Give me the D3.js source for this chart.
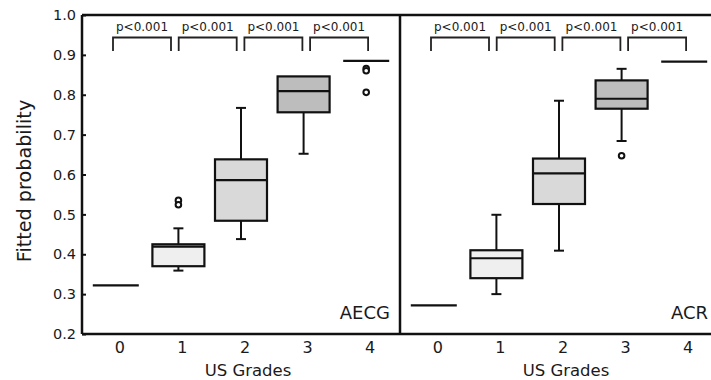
<!DOCTYPE html>
<html>
<head>
<meta charset="utf-8">
<script src="https://cdn.jsdelivr.net/npm/d3@7"></script>
<style>
  body { margin: 0; background: #fff; }
  text { font-family: "DejaVu Sans", Verdana, sans-serif; fill: #1a1a1a; }
</style>
</head>
<body>
<div id="chart"></div>
<script>
// data
var grades = [0, 1, 2, 3, 4];
var yTicks = [0.2, 0.3, 0.4, 0.5, 0.6, 0.7, 0.8, 0.9, 1.0];
var pLabels = ['p<0.001', 'p<0.001', 'p<0.001', 'p<0.001'];
var boxFills = ['#f0f0f0', '#efefef', '#d9d9d9', '#bdbdbd', '#bdbdbd'];

var aecgMin = [0.322, 0.359, 0.438, 0.652, 0.885];
var aecgQ1 = [0.322, 0.370, 0.484, 0.756, 0.885];
var aecgMed = [0.322, 0.419, 0.586, 0.809, 0.885];
var aecgQ3 = [0.322, 0.425, 0.638, 0.846, 0.885];
var aecgMax = [0.322, 0.465, 0.767, 0.846, 0.885];
var aecgOut = [[], [0.535, 0.524], [], [], [0.866, 0.860, 0.806]];

var acrMin = [0.272, 0.300, 0.409, 0.684, 0.883];
var acrQ1 = [0.272, 0.340, 0.526, 0.765, 0.883];
var acrMed = [0.272, 0.390, 0.603, 0.790, 0.883];
var acrQ3 = [0.272, 0.410, 0.640, 0.836, 0.883];
var acrMax = [0.272, 0.499, 0.785, 0.865, 0.883];
var acrOut = [[], [], [], [0.647], []];

var width = 711, height = 380;
var plotLeft = 82, plotTop = 15, plotBottom = 334, panelW = 318;

var svg = d3.select('#chart').append('svg')
  .attr('width', width)
  .attr('height', height);

var y = d3.scaleLinear().domain([0.2, 1.0]).range([plotBottom, plotTop]);

function stats(mins, q1s, meds, q3s, maxs, outs) {
  return grades.map(function(g, i) {
    return {grade: g, min: mins[i], q1: q1s[i], med: meds[i], q3: q3s[i], max: maxs[i], out: outs[i]};
  });
}

function drawPanel(x0, data, label) {
  var x = d3.scalePoint().domain(grades).range([x0, x0 + panelW]).padding(0.54);
  var bx = d3.scaleLinear().domain([0, 4]).range([x0 + 31, x0 + 31 + 4 * 65.7]);
  var g = svg.append('g');
  var hw = 26;

  var node = g.selectAll('.box')
    .data(data)
    .enter()
    .append('g').attr('class', 'box')
    .attr('transform', function(d) { return 'translate(' + x(d.grade) + ',0)'; });

  var real = node.filter(function(d) { return d.q3 > d.q1; });

  // whiskers
  real.append('line')
    .attr('y1', function(d) { return y(d.q3); })
    .attr('y2', function(d) { return y(d.max); })
    .attr('stroke', '#111').attr('stroke-width', 2);
  real.append('line')
    .attr('y1', function(d) { return y(d.q1); })
    .attr('y2', function(d) { return y(d.min); })
    .attr('stroke', '#111').attr('stroke-width', 2);
  real.filter(function(d) { return d.max > d.q3; }).append('line')
    .attr('x1', -5).attr('x2', 5)
    .attr('y1', function(d) { return y(d.max); })
    .attr('y2', function(d) { return y(d.max); })
    .attr('stroke', '#111').attr('stroke-width', 2);
  real.filter(function(d) { return d.min < d.q1; }).append('line')
    .attr('x1', -5).attr('x2', 5)
    .attr('y1', function(d) { return y(d.min); })
    .attr('y2', function(d) { return y(d.min); })
    .attr('stroke', '#111').attr('stroke-width', 2);

  real.append('rect')
    .attr('x', -hw)
    .attr('width', hw * 2)
    .attr('y', function(d) { return y(d.q3); })
    .attr('height', function(d) { return y(d.q1) - y(d.q3); })
    .attr('fill', function(d) { return boxFills[d.grade]; })
    .attr('stroke', '#111').attr('stroke-width', 2.2);

  real.append('line')
    .attr('x1', -hw).attr('x2', hw)
    .attr('y1', function(d) { return y(d.med); })
    .attr('y2', function(d) { return y(d.med); })
    .attr('stroke', '#111').attr('stroke-width', 2.2);

  // single-value groups
  node.filter(function(d) { return d.q3 <= d.q1; }).append('line')
    .attr('x1', -23).attr('x2', 23)
    .attr('y1', function(d) { return y(d.med); })
    .attr('y2', function(d) { return y(d.med); })
    .attr('stroke', '#111').attr('stroke-width', 2.2);

  node.selectAll('circle')
    .data(function(d) { return d.out; })
    .enter()
    .append('circle')
    .attr('r', 2.8)
    .attr('cy', function(v) { return y(v); })
    .attr('fill', '#fff')
    .attr('stroke', '#111').attr('stroke-width', 2);

  // significance brackets
  var br = g.selectAll('.bracket')
    .data(pLabels)
    .enter()
    .append('g').attr('class', 'bracket')
    .attr('transform', function(d, i) { return 'translate(' + bx(i) + ',0)'; });
  br.append('path')
    .attr('d', 'M0,51V37.5H58V51')
    .attr('fill', 'none')
    .attr('stroke', '#222').attr('stroke-width', 1.8);
  br.append('text')
    .attr('x', 29).attr('y', 31)
    .attr('text-anchor', 'middle')
    .style('font-size', '12px')
    .text(function(d) { return d; });

  // x tick labels
  g.selectAll('.xt')
    .data(grades)
    .enter()
    .append('text')
    .attr('x', function(d) { return x(d) + 4; })
    .attr('y', 353)
    .attr('text-anchor', 'middle')
    .style('font-size', '16px')
    .text(function(d) { return d; });

  g.append('text')
    .attr('x', x0 + 166)
    .attr('y', 376)
    .attr('text-anchor', 'middle')
    .style('font-size', '16.5px')
    .text('US Grades');

  g.append('text')
    .attr('x', x0 + panelW - 10)
    .attr('y', 319)
    .attr('text-anchor', 'end')
    .style('font-size', '18px')
    .text(label);
}

drawPanel(plotLeft, stats(aecgMin, aecgQ1, aecgMed, aecgQ3, aecgMax, aecgOut), 'AECG');
drawPanel(plotLeft + panelW, stats(acrMin, acrQ1, acrMed, acrQ3, acrMax, acrOut), 'ACR');

// frame
var frame = svg.append('g').attr('stroke', '#111').attr('stroke-width', 2.5);
frame.append('line').attr('x1', plotLeft).attr('x2', plotLeft + 2 * panelW).attr('y1', plotTop).attr('y2', plotTop);
frame.append('line').attr('x1', plotLeft).attr('x2', plotLeft + 2 * panelW).attr('y1', plotBottom).attr('y2', plotBottom);
frame.append('line').attr('x1', plotLeft).attr('x2', plotLeft).attr('y1', plotTop).attr('y2', plotBottom);
frame.append('line').attr('x1', plotLeft + panelW).attr('x2', plotLeft + panelW).attr('y1', plotTop).attr('y2', plotBottom);

// y axis
var yAxis = d3.axisRight(y).tickValues(yTicks).tickSize(4).tickFormat(d3.format('.1f'));
var ya = svg.append('g').attr('transform', 'translate(' + plotLeft + ',0)').call(yAxis);
ya.select('.domain').remove();
ya.selectAll('.tick line').attr('stroke', '#111').attr('stroke-width', 2);
ya.selectAll('.tick text')
  .attr('x', -6)
  .attr('text-anchor', 'end')
  .style('font-family', '"DejaVu Sans", sans-serif')
  .style('font-size', '14.5px')
  .attr('fill', '#1a1a1a');

svg.append('text')
  .attr('transform', 'translate(31,181) rotate(-90)')
  .attr('text-anchor', 'middle')
  .style('font-size', '19.2px')
  .text('Fitted probability');
</script>
</body>
</html>
